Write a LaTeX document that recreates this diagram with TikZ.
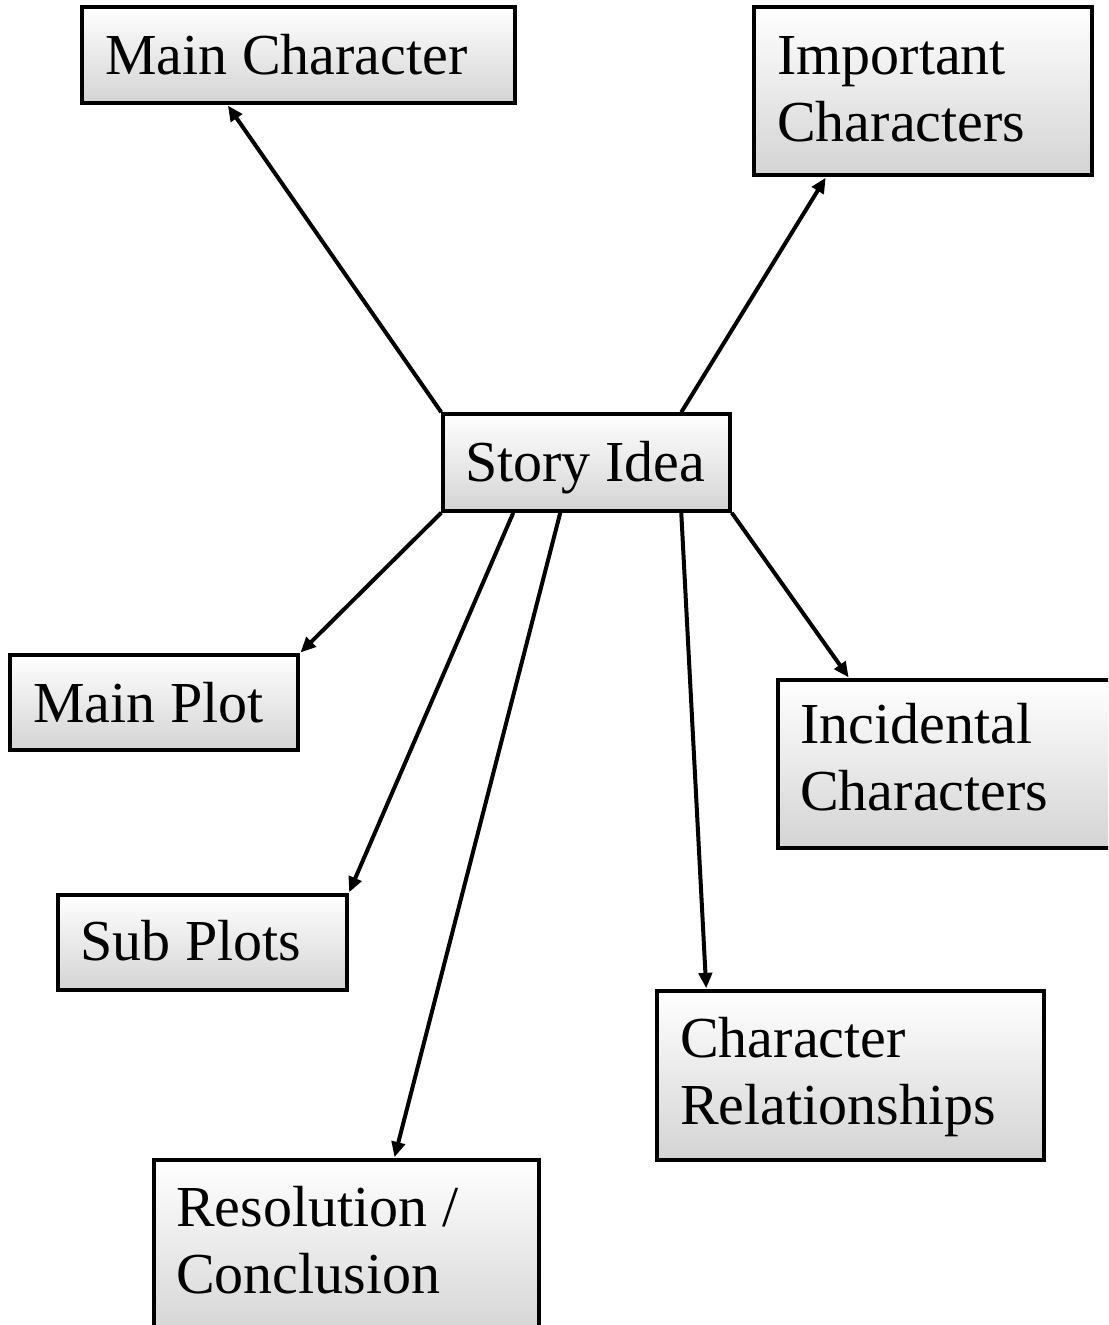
\documentclass[tikz,border=0pt]{standalone}
\usepackage{fontspec}
\setmainfont{Liberation Serif}
\usetikzlibrary{arrows.meta}
\newcommand{\pu}{0.75pt}
\tikzset{
  box/.style={draw=black, line width=2.6pt, top color=white, bottom color=black!17,
    rectangle, inner sep=0pt},
  txt/.style={anchor=base west, inner sep=0pt, align=left,
    font=\fontsize{43.5pt}{50.25pt}\selectfont},
  arr/.style={line width=3pt, -{Triangle[length=11.5pt,width=10pt]}, shorten >=0.8pt},
}
% place a box by its pixel corners: name, left, top, right, bottom
\newcommand{\boxat}[5]{%
  \node[box, minimum width={(#4-#2)*\pu}, minimum height={(#5-#3)*\pu}]
    (#1) at ({(#2+#4)/2},{(#3+#5)/2}) {};}
\begin{document}
\begin{tikzpicture}[x=0.75pt,y=-0.75pt]
\useasboundingbox (0,0) rectangle (1108,1325);
\clip (0,0) rectangle (1108,1325);

% boxes
\boxat{mc}{82}{7}{515}{103}
\boxat{ic}{754}{7}{1092}{175}
\boxat{si}{443}{414}{730}{511}
\boxat{mp}{10}{655}{298}{750}
\boxat{inc}{778}{680}{1120}{848}
\boxat{sp}{58}{895}{347}{990}
\boxat{cr}{657}{991}{1044}{1160}
\boxat{rc}{154}{1160}{539}{1340}

% labels (base anchor sits on the last line)
\node[txt] (mct)  at (105,74)   {Main Character};
\node[txt] (ict)  at (777,141)  {Important\\Characters};
\node[txt] (sit)  at (465,481)  {Story Idea};
\node[txt] (mpt)  at (33,722)   {Main Plot};
\node[txt] (inct) at (800,810)  {Incidental\\Characters};
\node[txt] (spt)  at (80,960)   {Sub Plots};
\node[txt] (crt)  at (680,1124) {Character\\Relationships};
\node[txt] (rct)  at (176,1293) {Resolution /\\Conclusion};

% connectors from the story idea
\draw[arr] (si.north west) -- ([xshift=147*\pu]mc.south west);
\draw[arr] ([xshift=240*\pu]si.north west) -- ([xshift=74*\pu]ic.south west);
\draw[arr] (si.south west) -- (mp.north east);
\draw[arr] ([xshift=72*\pu]si.south west) -- (sp.north east);
\draw[arr] ([xshift=119*\pu]si.south west) -- ([xshift=242*\pu]rc.north west);
\draw[arr] ([xshift=240*\pu]si.south west) -- ([xshift=51*\pu]cr.north west);
\draw[arr] (si.south east) -- ([xshift=73*\pu]inc.north west);
\end{tikzpicture}
\end{document}
